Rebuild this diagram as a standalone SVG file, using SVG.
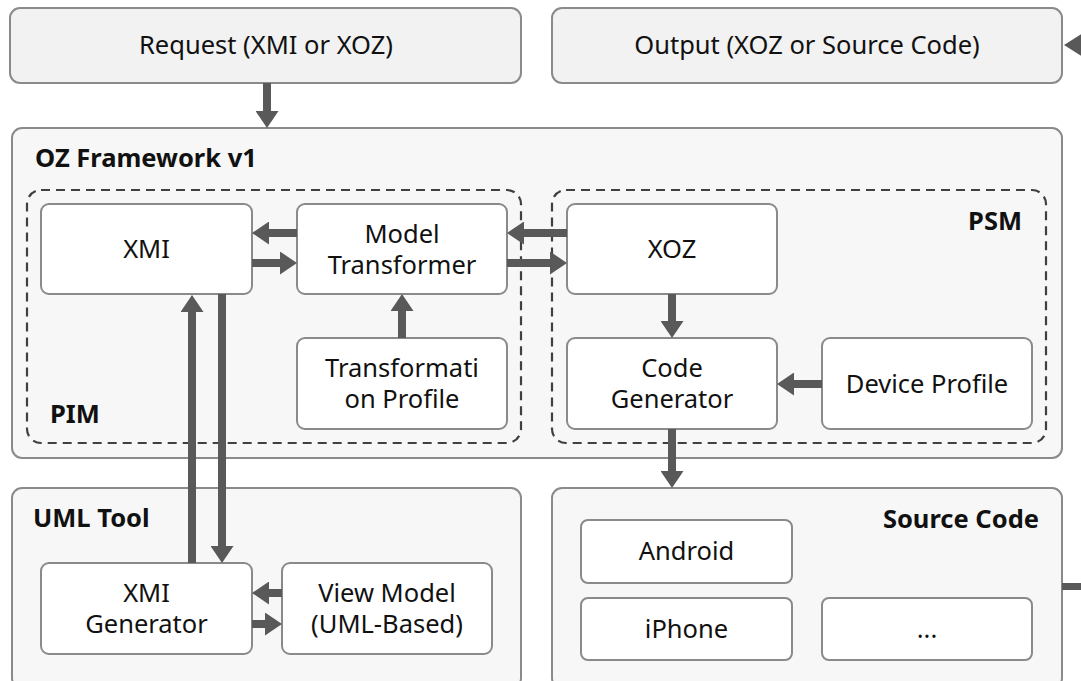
<svg xmlns="http://www.w3.org/2000/svg" width="1081" height="681" viewBox="0 0 1081 681">
<defs>
<style>
.outer{fill:#f2f2f2;stroke:#8a8a8a;stroke-width:2}
.frame{fill:#f7f7f7;stroke:#8a8a8a;stroke-width:2}
.dash{fill:none;stroke:#404040;stroke-width:2.2;stroke-dasharray:9,6}
.box{fill:#ffffff;stroke:#8a8a8a;stroke-width:2}
.t{font-family:"Noto Sans","Open Sans","DejaVu Sans",sans-serif;font-size:25.5px;fill:#111;text-anchor:middle}
.b{font-family:"Noto Sans","Open Sans","DejaVu Sans",sans-serif;font-size:25.5px;font-weight:bold;fill:#111}
.c{stroke:#595959;stroke-width:8;fill:none;marker-end:url(#ah)}
</style>
<marker id="ah" markerUnits="userSpaceOnUse" markerWidth="17" markerHeight="23" refX="0" refY="11.5" orient="auto">
<path d="M0,0 L17,11.5 L0,23 z" fill="#595959"/>
</marker>
</defs>
<rect width="1081" height="681" fill="#ffffff"/>

<g id="request"><rect class="outer" x="10" y="8" width="511" height="75" rx="10"/><text class="t" x="266" y="54">Request (XMI or XOZ)</text></g>
<g id="output"><rect class="outer" x="552" y="8" width="510" height="75" rx="10"/><text class="t" x="807" y="54">Output (XOZ or Source Code)</text></g>

<g id="oz-framework"><rect class="frame" x="12" y="128" width="1050" height="330" rx="10"/><text class="b" x="35" y="167">OZ Framework v1</text></g>
<g id="pim"><rect class="dash" x="27" y="190" width="494" height="253" rx="14"/><text class="b" x="50" y="423">PIM</text></g>
<g id="psm"><rect class="dash" x="552" y="190" width="494" height="253" rx="14"/><text class="b" x="1022" y="230" text-anchor="end">PSM</text></g>

<g id="xmi"><rect class="box" x="41" y="204" width="211" height="90" rx="8"/><text class="t" x="146.5" y="258">XMI</text></g>
<g id="model-transformer"><rect class="box" x="297" y="204" width="210" height="90" rx="8"/><text class="t" x="402" y="243">Model</text><text class="t" x="402" y="274">Transformer</text></g>
<g id="transformation-profile"><rect class="box" x="297" y="338" width="210" height="91" rx="8"/><text class="t" x="402" y="377">Transformati</text><text class="t" x="402" y="408">on Profile</text></g>
<g id="xoz"><rect class="box" x="567" y="204" width="210" height="90" rx="8"/><text class="t" x="672" y="258">XOZ</text></g>
<g id="code-generator"><rect class="box" x="567" y="338" width="210" height="91" rx="8"/><text class="t" x="672" y="377">Code</text><text class="t" x="672" y="408">Generator</text></g>
<g id="device-profile"><rect class="box" x="822" y="338" width="210" height="91" rx="8"/><text class="t" x="927" y="393">Device Profile</text></g>

<g id="uml-tool"><rect class="frame" x="12" y="488" width="509" height="200" rx="10"/><text class="b" x="33" y="527">UML Tool</text></g>
<g id="xmi-generator"><rect class="box" x="41" y="563" width="211" height="91" rx="8"/><text class="t" x="146.5" y="602">XMI</text><text class="t" x="146.5" y="633">Generator</text></g>
<g id="view-model"><rect class="box" x="282" y="563" width="210" height="91" rx="8"/><text class="t" x="387" y="602">View Model</text><text class="t" x="387" y="633">(UML-Based)</text></g>

<g id="source-code"><rect class="frame" x="552" y="488" width="510" height="200" rx="10"/><text class="b" x="1039" y="528" text-anchor="end">Source Code</text></g>
<g id="android"><rect class="box" x="581" y="520" width="211" height="63" rx="7"/><text class="t" x="686.5" y="560">Android</text></g>
<g id="iphone"><rect class="box" x="581" y="598" width="211" height="62" rx="7"/><text class="t" x="686.5" y="638">iPhone</text></g>
<g id="etc"><rect class="box" x="822" y="598" width="210" height="62" rx="7"/><text class="t" x="927" y="638">...</text></g>

<g id="connectors">
<line class="c" x1="267" y1="83" x2="267" y2="111"/>
<line class="c" x1="297" y1="233" x2="269" y2="233"/>
<line class="c" x1="252" y1="263" x2="280" y2="263"/>
<line class="c" x1="567" y1="233" x2="524" y2="233"/>
<line class="c" x1="507" y1="263" x2="550" y2="263"/>
<line class="c" x1="402" y1="338" x2="402" y2="311"/>
<line class="c" x1="672" y1="294" x2="672" y2="321"/>
<line class="c" x1="822" y1="384" x2="794" y2="384"/>
<line class="c" x1="672" y1="429" x2="672" y2="471"/>
<line class="c" x1="192" y1="563" x2="192" y2="312"/>
<line class="c" x1="222" y1="294" x2="222" y2="546"/>
<line class="c" x1="282" y1="593" x2="269" y2="593"/>
<line class="c" x1="252" y1="624" x2="265" y2="624"/>
<polygon points="1064,45 1082,33.5 1082,56.5" fill="#595959"/>
<rect x="1062" y="583" width="20" height="7" fill="#595959"/>
</g>
</svg>
